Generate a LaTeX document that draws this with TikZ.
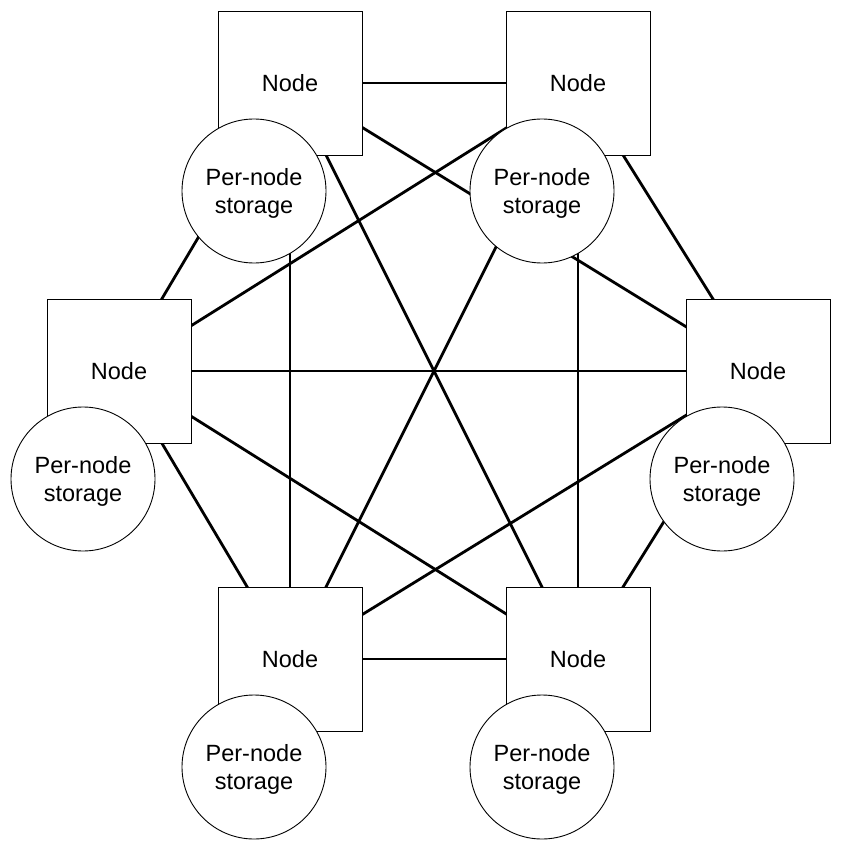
\documentclass[tikz,border=0pt]{standalone}
\usepackage{fontspec}
\setmainfont{Liberation Sans}
\usetikzlibrary{backgrounds}
\begin{document}
\begin{tikzpicture}[x=1pt,y=-1pt,
  box/.style={draw,fill=white,minimum size=144pt,inner sep=0pt,line width=.9pt,font=\fontsize{23.5}{28}\selectfont},
  store/.style={draw,circle,fill=white,minimum size=144pt,inner sep=0pt,align=center,text depth=0pt,line width=.9pt,font=\fontsize{23.5}{28}\selectfont},
  link/.style={line width=2.8pt}]
\useasboundingbox (0,0) rectangle (841,850);
\node[box] (tl) at (290,83) {Node};
\node[box] (tr) at (578,83) {Node};
\node[box] (l) at (119,371) {Node};
\node[box] (r) at (758,371) {Node};
\node[box] (bl) at (290,659) {Node};
\node[box] (br) at (578,659) {Node};
\node[store] (stl) at (254,191) {Per-node\\storage};
\node[store] (str) at (542,191) {Per-node\\storage};
\node[store] (sl) at (83,479) {Per-node\\storage};
\node[store] (sr) at (722,479) {Per-node\\storage};
\node[store] (sbl) at (254,767) {Per-node\\storage};
\node[store] (sbr) at (542,767) {Per-node\\storage};

\begin{scope}[on background layer]
\foreach \a/\b in {tl/tr,tl/l,tl/r,tl/bl,tl/br,tr/l,tr/r,tr/bl,tr/br,l/r,l/bl,l/br,r/bl,r/br,bl/br}
  \draw[link] (\a.center) -- (\b.center);
\end{scope}
\end{tikzpicture}
\end{document}
